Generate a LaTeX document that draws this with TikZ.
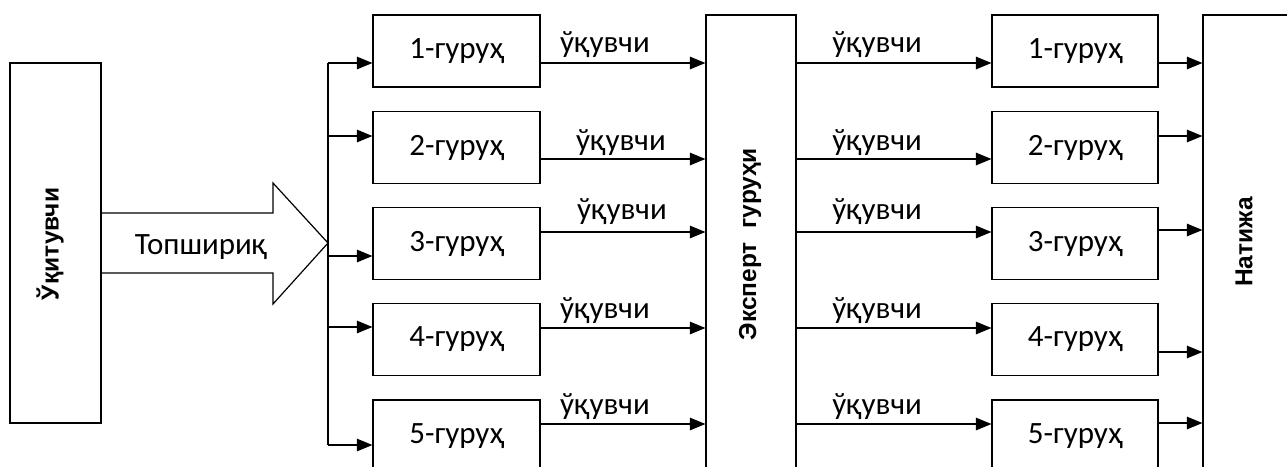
\documentclass[tikz,border=0pt]{standalone}
\usepackage{fontspec}
\setmainfont{Carlito}
\newfontfamily\lsans{Liberation Sans}
\usetikzlibrary{arrows.meta}
\begin{document}
\begin{tikzpicture}[x=1pt,y=-1pt,line width=1.2pt,
  grp/.style={draw,rectangle,minimum width=167pt,minimum height=72pt,inner sep=0pt,font=\fontsize{31}{32}\selectfont},
  tall/.style={draw,rectangle,inner sep=0pt},
  vlabel/.style={rotate=90,inner sep=0pt,font=\lsans\bfseries\fontsize{24.5}{26}\selectfont},
  lbl/.style={inner sep=0pt,font=\fontsize{31}{32}\selectfont},
  arr/.style={-{Triangle[length=15.5pt,width=12.5pt]}}]
\useasboundingbox (0,0) rectangle (1287,466);

% teacher box
\node[tall,minimum width=91pt,minimum height=360pt] (teacher) at (55.5,243) {};
\node[vlabel] (teachertxt) at (50,244) {Ўқитувчи};

% big arrow
\coordinate (tip) at (328,243);
\draw (teacher.east |- 0,213) -- (273,213) -- (273,183) -- (tip) -- (273,304) -- (273,273) -- (teacher.east |- 0,273);
\node[lbl] (task) at (201,247) {Топшириқ};

% spine
\coordinate (sptop) at (328,63);
\coordinate (spbot) at (328,445);
\draw (sptop) -- (spbot);

% expert and result boxes
\node[tall,minimum width=90pt,minimum height=485pt] (expert) at (751,257.5) {};
\node[vlabel] (experttxt) at (750,244) {Эксперт~~гуруҳи};
\node[tall,minimum width=107pt,minimum height=485pt] (result) at (1256.5,257.5) {};
\node[vlabel] (resulttxt) at (1244,242) {Натижа};

% groups
\foreach \i/\cy/\ain/\aout/\ly/\lx/\ares in {1/51/63/63/45/605/63, 2/147.5/136/159/143/621/136, 3/243.5/256/232/212/622/230, 4/339.5/327/328/311/605/352, 5/436/445/424/407/605/423}{
  \node[grp] (L\i) at (456.5,\cy) {\i-гуруҳ};
  \node[grp,minimum width=166pt] (R\i) at (1075,\cy) {\i-гуруҳ};
  \draw[arr] (sptop |- 0,\ain) -- (L\i.west |- 0,\ain);
  \draw[arr] (L\i.east |- 0,\aout) -- (expert.west |- 0,\aout);
  \node[lbl] (la\i) at (\lx,\ly) {ўқувчи};
  \draw[arr] (expert.east |- 0,\aout) -- (R\i.west |- 0,\aout);
  \node[lbl] (lb\i) at (877,\ly) {ўқувчи};
  \draw[arr] (R\i.east |- 0,\ares) -- (result.west |- 0,\ares);
}
\end{tikzpicture}
\end{document}
